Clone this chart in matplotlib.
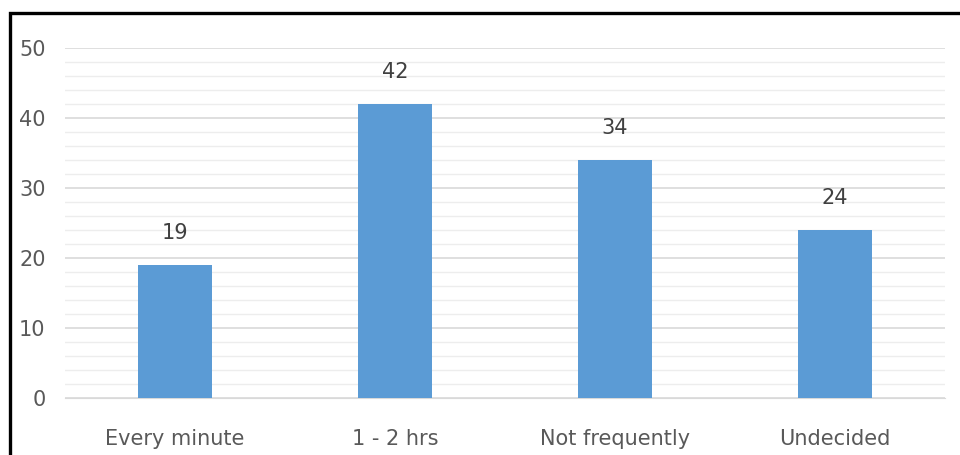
import matplotlib.pyplot as plt
from matplotlib.patches import Rectangle
from matplotlib.ticker import MultipleLocator

categories = ['Every minute', '1 - 2 hrs', 'Not frequently', 'Undecided']
counts = [19, 42, 34, 24]

plt.rcParams['font.family'] = ['Liberation Sans Narrow', 'DejaVu Sans']

fig = plt.figure(figsize=(9.6, 4.55), dpi=100)
ax = fig.add_axes([65 / 960, 1 - 398 / 455, 880 / 960, 350 / 455])

ax.bar(range(len(categories)), counts, width=0.336, color='#5b9bd5', zorder=3)
for i, v in enumerate(counts):
    ax.text(i, v + 3.2, str(v), ha='center', va='bottom', fontsize=15, color='#404040')

ax.set_xlim(-0.5, 3.5)
ax.set_ylim(0, 50)
ax.yaxis.set_major_locator(MultipleLocator(10))
ax.yaxis.set_minor_locator(MultipleLocator(2))
ax.grid(axis='y', which='major', color='#d9d9d9', linewidth=1.2, zorder=0)
ax.grid(axis='y', which='minor', color='#ededed', linewidth=1.0, zorder=0)
ax.set_xticks(range(len(categories)))
ax.set_xticklabels(categories)
ax.tick_params(axis='both', which='both', length=0)
ax.tick_params(axis='both', labelsize=15, labelcolor='#595959')
ax.tick_params(axis='y', pad=14)
ax.tick_params(axis='x', pad=22)
for s in ['top', 'right', 'left']:
    ax.spines[s].set_visible(False)
ax.spines['bottom'].set_color('#d9d9d9')

# outer frame
fig.patches.append(Rectangle((10 / 960, -0.1), 1.2, 1 - 13 / 455 + 0.1,
                             transform=fig.transFigure, fill=False,
                             edgecolor='black', linewidth=2.4))

fig.savefig('out.png', dpi=100)
